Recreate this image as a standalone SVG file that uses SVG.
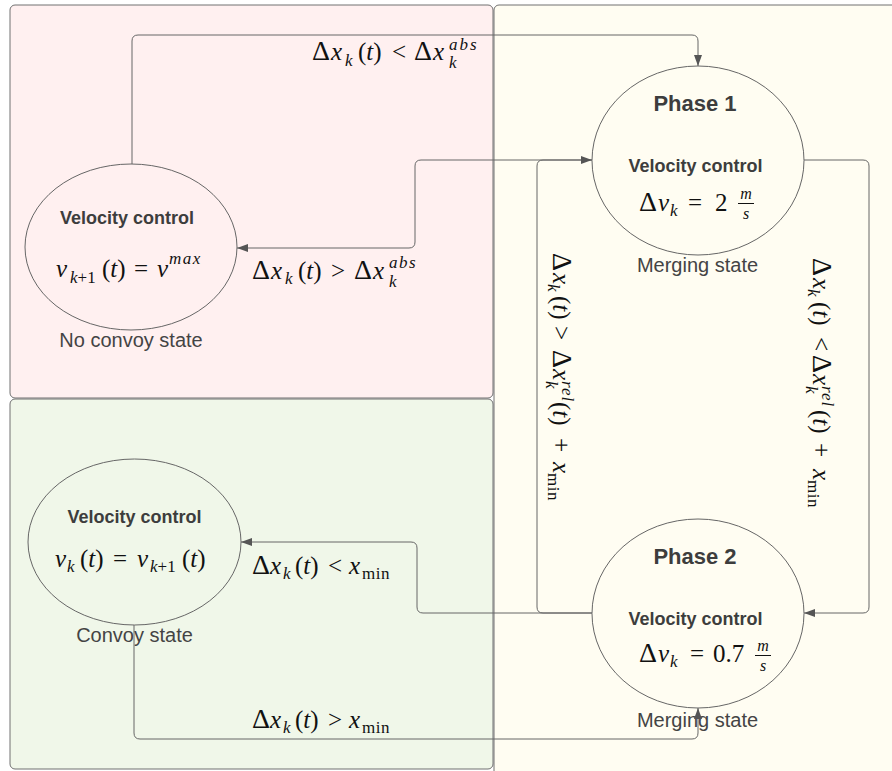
<svg xmlns="http://www.w3.org/2000/svg" width="892" height="771" viewBox="0 0 892 771">
<style>
.panel{stroke:#707070;stroke-width:1}
.node{fill:none;stroke:#666;stroke-width:1}
.t{font-family:"Liberation Sans",Arial,sans-serif;fill:#444}
.b{font-weight:bold;fill:#3d3d3d}
.vc{font-size:18px}
.ph{font-size:22px}
.st{font-size:20px}
.m{font-family:"Liberation Serif","Times New Roman",serif;font-size:25px;fill:#111}
.d{font-size:28px}
.i{font-style:italic}
.s{font-size:17px}
.f{font-size:16px}
.conn{fill:none;stroke:#666;stroke-width:1}
</style>
<defs>
<marker id="arr" markerUnits="userSpaceOnUse" markerWidth="12" markerHeight="9" refX="11" refY="4" orient="auto">
<path d="M0,0 L11,4 L0,8 z" fill="#555"/>
</marker>
</defs>
<rect width="892" height="771" fill="#ffffff"/>
<g id="panels">
<rect class="panel" x="494" y="5" width="420" height="790" rx="5" fill="#fffdf2"/>
<rect class="panel" x="10" y="5" width="483" height="393" rx="5" fill="#fff0f0"/>
<rect class="panel" x="10" y="399" width="483" height="370" rx="5" fill="#f0f7e9"/>
</g>
<g id="no-convoy">
<ellipse class="node" cx="131" cy="247" rx="106" ry="83"/>
<text class="t b vc" x="127" y="224" text-anchor="middle">Velocity control</text>
<text class="m" y="277"><tspan x="56" class="i">v</tspan><tspan x="70" y="283" class="s"><tspan class="i">k</tspan>+1</tspan><tspan x="102" y="277">(</tspan><tspan class="i">t</tspan><tspan>)</tspan><tspan x="134">=</tspan><tspan x="157" class="i">v</tspan><tspan x="169" y="264" class="i s" letter-spacing="1.5">max</tspan></text>
<text class="t st" x="131" y="347" text-anchor="middle">No convoy state</text>
</g>
<g id="convoy">
<ellipse class="node" cx="134.5" cy="542" rx="106.5" ry="83"/>
<text class="t b vc" x="134.5" y="523" text-anchor="middle">Velocity control</text>
<text class="m" y="567"><tspan x="55" class="i">v</tspan><tspan x="67" y="572" class="i s">k</tspan><tspan x="80" y="567">(</tspan><tspan class="i">t</tspan><tspan>)</tspan><tspan x="113">=</tspan><tspan x="137" class="i">v</tspan><tspan x="150" y="572" class="s"><tspan class="i">k</tspan>+1</tspan><tspan x="182" y="567">(</tspan><tspan class="i">t</tspan><tspan>)</tspan></text>
<text class="t st" x="134.5" y="642" text-anchor="middle">Convoy state</text>
</g>
<g id="phase1">
<ellipse class="node" cx="698" cy="160.5" rx="106" ry="94.5"/>
<text class="t b ph" x="695" y="111" text-anchor="middle">Phase 1</text>
<text class="t b vc" x="695.5" y="172" text-anchor="middle">Velocity control</text>
<text class="m" y="211"><tspan x="639" class="d">Δ</tspan><tspan x="658" class="i">v</tspan><tspan x="670" y="216" class="i s">k</tspan><tspan x="688" y="211">=</tspan><tspan x="715">2</tspan></text>
<text class="m i f" x="746" y="199" text-anchor="middle">m</text>
<line x1="738" y1="203.5" x2="754" y2="203.5" stroke="#111" stroke-width="1"/>
<text class="m i f" x="746" y="219" text-anchor="middle">s</text>
<text class="t st" x="697.5" y="272" text-anchor="middle">Merging state</text>
</g>
<g id="phase2">
<ellipse class="node" cx="698" cy="613.5" rx="106" ry="94.5"/>
<text class="t b ph" x="695" y="564" text-anchor="middle">Phase 2</text>
<text class="t b vc" x="695.5" y="625" text-anchor="middle">Velocity control</text>
<text class="m" y="662"><tspan x="639" class="d">Δ</tspan><tspan x="658" class="i">v</tspan><tspan x="670" y="667" class="i s">k</tspan><tspan x="690" y="662">=</tspan><tspan x="713">0.7</tspan></text>
<text class="m i f" x="763" y="651" text-anchor="middle">m</text>
<line x1="755" y1="655.5" x2="771" y2="655.5" stroke="#111" stroke-width="1"/>
<text class="m i f" x="763" y="671" text-anchor="middle">s</text>
<text class="t st" x="697.5" y="727" text-anchor="middle">Merging state</text>
</g>
<g id="connectors">
<path class="conn" d="M132,164 V41 Q132,35 138,35 H692 Q698,35 698,41 V66" marker-end="url(#arr)"/>
<path class="conn" d="M592,160 H421 Q415,160 415,166 V242 Q415,248 409,248 H237" marker-end="url(#arr)"/>
<path class="conn" d="M804,160 H863 Q869,160 869,166 V607 Q869,613 863,613 H804" marker-end="url(#arr)"/>
<path class="conn" d="M592,613 H543 Q537,613 537,607 V166 Q537,160 543,160 H592" marker-end="url(#arr)"/>
<path class="conn" d="M592,613 H423 Q417,613 417,607 V548 Q417,542 411,542 H241" marker-end="url(#arr)"/>
<path class="conn" d="M134,625 V733 Q134,739 140,739 H692 Q698,739 698,733 V708" marker-end="url(#arr)"/>
</g>
<g id="labels">
<text class="m" y="60"><tspan x="312" class="d">Δ</tspan><tspan x="331" class="i">x</tspan><tspan x="345" y="66" class="i s">k</tspan><tspan x="358" y="60">(</tspan><tspan class="i">t</tspan><tspan>)</tspan><tspan x="392">&lt;</tspan><tspan x="414" class="d">Δ</tspan><tspan x="433" class="i">x</tspan><tspan x="449" y="50" class="i s" letter-spacing="2">abs</tspan><tspan x="449" y="68" class="i s">k</tspan></text>
<text class="m" y="279"><tspan x="252" class="d">Δ</tspan><tspan x="271" class="i">x</tspan><tspan x="285" y="284" class="i s">k</tspan><tspan x="298" y="279">(</tspan><tspan class="i">t</tspan><tspan>)</tspan><tspan x="331">&gt;</tspan><tspan x="354" class="d">Δ</tspan><tspan x="373" class="i">x</tspan><tspan x="389" y="268" class="i s" letter-spacing="1.5">abs</tspan><tspan x="389" y="287" class="i s">k</tspan></text>
<text class="m" y="574"><tspan x="252" class="d">Δ</tspan><tspan x="270" class="i">x</tspan><tspan x="283" y="579" class="i s">k</tspan><tspan x="295" y="574">(</tspan><tspan class="i">t</tspan><tspan>)</tspan><tspan x="328">&lt;</tspan><tspan x="349" class="i">x</tspan><tspan x="362" y="579" class="s" letter-spacing="0.5">min</tspan></text>
<text class="m" y="728"><tspan x="252" class="d">Δ</tspan><tspan x="270" class="i">x</tspan><tspan x="283" y="733" class="i s">k</tspan><tspan x="295" y="728">(</tspan><tspan class="i">t</tspan><tspan>)</tspan><tspan x="328">&gt;</tspan><tspan x="349" class="i">x</tspan><tspan x="362" y="733" class="s" letter-spacing="0.5">min</tspan></text>
<text class="m" transform="translate(813,258) rotate(90)" y="0"><tspan x="0" class="d">Δ</tspan><tspan x="20" class="i">x</tspan><tspan x="31" y="5" class="i s">k</tspan><tspan x="44" y="0">(</tspan><tspan class="i">t</tspan><tspan>)</tspan><tspan x="79">&lt;</tspan><tspan x="97" class="d">Δ</tspan><tspan x="116" class="i">x</tspan><tspan x="128" y="-9" class="i s" letter-spacing="1">rel</tspan><tspan x="128" y="7" class="i s">k</tspan><tspan x="152" y="0">(</tspan><tspan class="i">t</tspan><tspan>)</tspan><tspan x="185">+</tspan><tspan x="211" class="i">x</tspan><tspan x="222" y="5" class="s" letter-spacing="0.5">min</tspan></text>
<text class="m" transform="translate(553,253) rotate(90)" y="0"><tspan x="0" class="d">Δ</tspan><tspan x="20" class="i">x</tspan><tspan x="31" y="5" class="i s">k</tspan><tspan x="43" y="0">(</tspan><tspan class="i">t</tspan><tspan>)</tspan><tspan x="73">&gt;</tspan><tspan x="97" class="d">Δ</tspan><tspan x="116" class="i">x</tspan><tspan x="128" y="-9" class="i s" letter-spacing="1">rel</tspan><tspan x="128" y="7" class="i s">k</tspan><tspan x="149" y="0">(</tspan><tspan class="i">t</tspan><tspan>)</tspan><tspan x="185">+</tspan><tspan x="209" class="i">x</tspan><tspan x="220" y="5" class="s" letter-spacing="0.5">min</tspan></text>
</g>
</svg>
